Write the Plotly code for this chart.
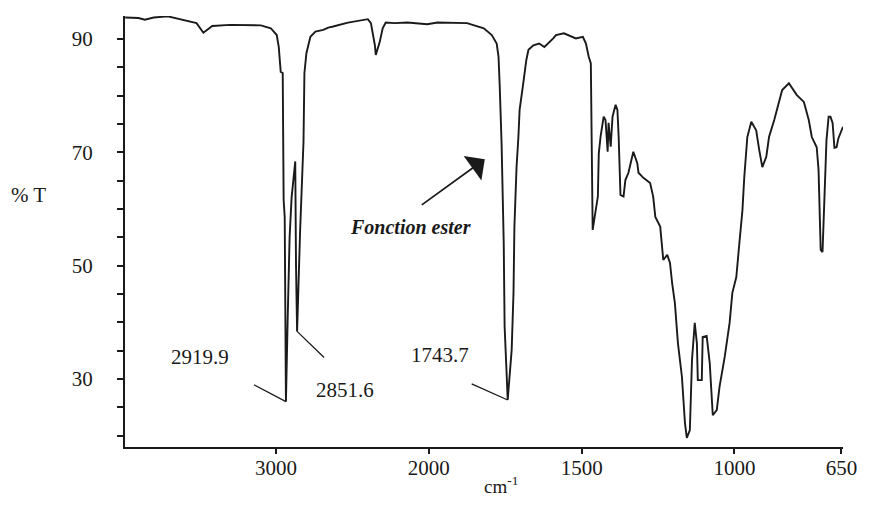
import plotly.graph_objects as go

# IR spectrum: wavenumber (cm-1) and transmittance (%T)
wavenumber = [3987, 3900, 3858, 3800, 3708, 3644, 3520, 3475, 3417, 3300, 3099, 3034,
              2995, 2982, 2969, 2956, 2950, 2943, 2937, 2935, 2924, 2911, 2898, 2874,
              2869, 2862, 2842, 2833, 2820, 2814, 2801, 2775, 2742, 2691, 2658, 2626,
              2529, 2399, 2379, 2353, 2347, 2321, 2302, 2282, 2224, 2140, 2010, 1972,
              1875, 1820, 1794, 1778, 1772, 1768, 1762, 1755, 1752, 1746, 1742, 1729,
              1723, 1720, 1713, 1707, 1703, 1691, 1681, 1674, 1658, 1639, 1622, 1593,
              1584, 1558, 1535, 1519, 1496, 1486, 1477, 1470, 1464, 1454, 1447, 1444,
              1438, 1428, 1422, 1415, 1412, 1405, 1399, 1389, 1383, 1379, 1373, 1363,
              1357, 1347, 1331, 1318, 1314, 1298, 1276, 1266, 1259, 1243, 1237, 1233,
              1220, 1211, 1204, 1195, 1185, 1172, 1162, 1156, 1146, 1139, 1130, 1123,
              1120, 1107, 1104, 1091, 1081, 1075, 1071, 1058, 1049, 1032, 1016, 1007,
              994, 984, 974, 968, 958, 945, 929, 919, 909, 896, 887, 870,
              854, 844, 822, 796, 773, 757, 747, 731, 725, 718, 712, 705,
              699, 692, 686, 679, 673, 666, 660, 645]
transmittance = [93.8, 93.7, 93.4, 93.8, 94.0, 93.6, 92.8, 91.1, 92.3, 92.5, 92.4, 91.9,
                 90.7, 88.6, 84.2, 84.0, 61.6, 58.6, 36.0, 26.0, 40.0, 55.0, 62.0, 68.4,
                 50.0, 38.4, 56.3, 63.0, 71.9, 84.0, 87.5, 90.4, 91.3, 91.6, 92.0, 92.2,
                 92.9, 93.5, 92.8, 88.9, 87.2, 89.5, 91.9, 92.9, 92.8, 92.9, 92.6, 92.9,
                 92.8, 91.9, 90.7, 89.2, 86.9, 81.6, 71.6, 54.0, 39.2, 31.6, 26.3, 35.1,
                 45.2, 56.9, 67.4, 72.7, 77.5, 82.2, 86.3, 88.1, 88.9, 89.2, 88.6, 90.1,
                 90.7, 91.0, 90.4, 90.1, 90.4, 89.2, 86.9, 85.7, 56.3, 59.8, 62.2, 69.8,
                 72.8, 76.3, 75.7, 70.1, 75.2, 71.0, 76.3, 78.4, 77.5, 72.8, 62.5, 62.2,
                 65.1, 66.4, 70.1, 68.1, 66.4, 65.5, 64.6, 62.2, 58.6, 56.9, 54.0, 51.0,
                 51.9, 50.5, 46.9, 43.4, 36.3, 30.4, 22.2, 19.6, 21.0, 33.4, 39.9, 36.3,
                 29.8, 29.8, 37.4, 37.6, 32.8, 25.5, 23.6, 24.5, 28.6, 33.9, 39.9, 45.2,
                 48.0, 54.0, 59.8, 65.6, 72.7, 75.4, 73.9, 70.4, 67.4, 69.2, 72.7, 75.7,
                 78.7, 81.0, 82.2, 80.1, 78.9, 75.7, 72.7, 70.9, 66.9, 52.8, 52.4, 61.6,
                 72.2, 76.3, 76.3, 75.2, 70.8, 70.9, 72.5, 74.5]

x_tick_values = [3000, 2000, 1500, 1000, 650]
x_tick_labels = ["3000", "2000", "1500", "1000", "650"]
y_tick_values = list(range(20, 95, 5))
y_labelled = [30, 50, 70, 90]

# peaks annotated: (wavenumber, %T, label)
peak_wn = [2935, 2862, 1742]
peak_t = [26.0, 38.4, 26.3]
peak_labels = ["2919.9", "2851.6", "1743.7"]


def to_axis(wn):
    """Chart scale: above 2000 cm-1 the scale is compressed by a factor 2."""
    return wn if wn <= 2000 else 2000 + (wn - 2000) / 2.0


FONT = "Liberation Serif"
INK = "#1a1a1a"

fig = go.Figure()
fig.add_trace(go.Scatter(
    x=[to_axis(w) for w in wavenumber], y=transmittance,
    mode="lines", line=dict(color=INK, width=1.9), hoverinfo="skip"))

# the page body adds an 8px margin, so the figure is sized to fit inside it
fig.update_layout(
    width=857, height=490,
    margin=dict(l=117, r=15, t=8, b=51),
    paper_bgcolor="white", plot_bgcolor="white",
    showlegend=False,
    font=dict(family=FONT, color=INK, size=21),
)
fig.update_xaxes(
    range=[2994, 645],
    tickvals=[to_axis(v) for v in x_tick_values], ticktext=x_tick_labels,
    showline=True, linecolor=INK, linewidth=2,
    ticks="outside", ticklen=5, tickwidth=1.5, tickcolor=INK,
    showgrid=False, zeroline=False,
    ticklabelstandoff=-4,
    tickfont=dict(family=FONT, size=21, color=INK),
)
fig.update_yaxes(
    range=[18, 94.06],
    tickvals=y_tick_values,
    ticktext=[str(v) if v in y_labelled else "" for v in y_tick_values],
    showline=True, linecolor=INK, linewidth=2,
    ticks="outside", ticklen=6, tickwidth=1.5, tickcolor=INK,
    showgrid=False, zeroline=False,
    ticklabelstandoff=20,
    tickfont=dict(family=FONT, size=21, color=INK),
)

# axis titles
fig.add_annotation(text="% T", xref="paper", yref="paper", x=-0.1338, y=0.5847,
                   showarrow=False, font=dict(family=FONT, size=21),
                   xanchor="center", yanchor="middle")
fig.add_annotation(text="cm<sup>-1</sup>", xref="paper", yref="paper", x=0.524, y=-0.088,
                   showarrow=False, font=dict(family=FONT, size=19),
                   xanchor="center", yanchor="middle")

# peak labels and leader lines
label_pos = [(0.1048, 0.2077), (0.3062, 0.1334), (0.4393, 0.2123)]
leader_offsets = [(-34, -18), (29, 28), (-38, -17)]
for wn, t, lab, (lx, ly), (ax, ay) in zip(peak_wn, peak_t, peak_labels, label_pos, leader_offsets):
    fig.add_annotation(text=lab, xref="paper", yref="paper", x=lx, y=ly,
                       showarrow=False, font=dict(family=FONT, size=21),
                       xanchor="center", yanchor="middle")
    fig.add_annotation(text=" ", x=to_axis(wn), y=t, xref="x", yref="y",
                       showarrow=True, arrowhead=0, arrowwidth=1.3, arrowcolor=INK,
                       ax=ax, ay=ay, standoff=0, font=dict(size=2))

# ester arrow and label
fig.add_annotation(text="<b><i>Fonction ester</i></b>", xref="paper", yref="paper",
                   x=0.3979, y=0.5093, showarrow=False,
                   font=dict(family=FONT, size=20), xanchor="center", yanchor="middle")
fig.add_annotation(text=" ", xref="paper", yref="paper", x=0.5011, y=0.6675,
                   showarrow=True, arrowhead=1, arrowsize=2.8, arrowwidth=1.8,
                   arrowcolor=INK, ax=-65, ay=47, standoff=0, font=dict(size=2))

fig.write_html("out.html")
